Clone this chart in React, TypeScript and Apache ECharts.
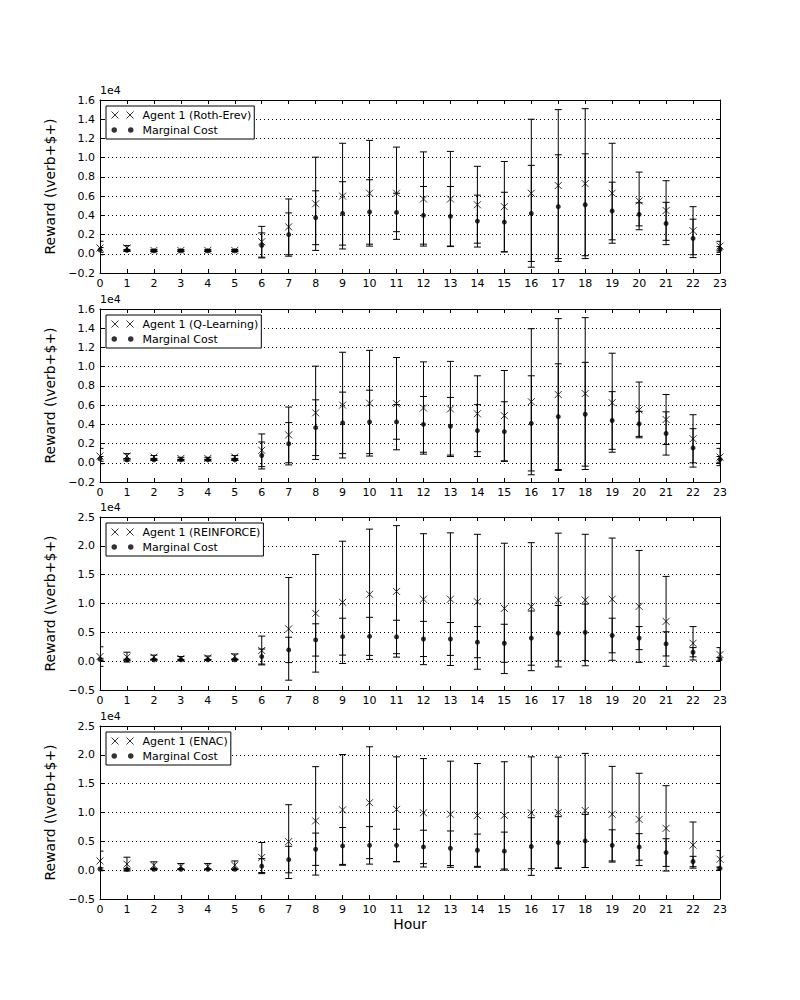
import React, { useEffect, useRef } from "react";
import * as echarts from "echarts";

const HOURS = [0, 1, 2, 3, 4, 5, 6, 7, 8, 9, 10, 11, 12, 13, 14, 15, 16, 17, 18, 19, 20, 21, 22, 23];

const AGENT_NAMES = [
  "Agent 1 (Roth-Erev)",
  "Agent 1 (Q-Learning)",
  "Agent 1 (REINFORCE)",
  "Agent 1 (ENAC)",
];

// Roth-Erev
const rothMean = [600, 600, 350, 350, 350, 350, 1250, 2800, 5200, 6000, 6300, 6300, 5700, 5700, 5100, 4900, 6300, 7100, 7300, 6300, 5500, 4500, 2400, 800];
const rothStd = [700, 250, 100, 100, 100, 100, 1600, 2900, 4850, 5500, 5500, 4800, 4900, 4950, 4000, 4700, 7700, 7900, 7800, 5200, 3000, 3100, 2500, 500];
const rothMcMean = [400, 350, 300, 300, 300, 300, 870, 2000, 3750, 4200, 4350, 4300, 4000, 3900, 3400, 3300, 4200, 4900, 5100, 4450, 4100, 3150, 1600, 450];
const rothMcStd = [250, 100, 60, 60, 60, 60, 1300, 2250, 2800, 3300, 3350, 2000, 3000, 3100, 2700, 3100, 5000, 5400, 5300, 3000, 1200, 2200, 2000, 300];

// Q-Learning
const qMean = [700, 700, 600, 450, 450, 600, 1300, 2900, 5200, 6000, 6200, 6150, 5700, 5600, 5100, 4900, 6350, 7100, 7200, 6250, 5500, 4500, 2500, 600];
const qStd = [800, 250, 150, 120, 120, 150, 1700, 2900, 4850, 5500, 5500, 4800, 4800, 4950, 3950, 4700, 7600, 7900, 7900, 5150, 2900, 2600, 2500, 900];
const qMcMean = [400, 300, 300, 300, 300, 300, 760, 1980, 3650, 4150, 4250, 4250, 4000, 3800, 3350, 3250, 4100, 4800, 5050, 4400, 4050, 3050, 1550, 350];
const qMcStd = [250, 100, 60, 60, 60, 60, 1400, 2200, 2900, 3200, 3300, 1800, 2900, 3000, 2700, 3100, 4950, 5500, 5400, 3000, 1300, 2250, 2000, 300];

// REINFORCE
const reMean = [800, 700, 700, 450, 550, 800, 1850, 5600, 8300, 10200, 11600, 12100, 10750, 10750, 10300, 9150, 9450, 10600, 10600, 10750, 9500, 6900, 3100, 1150];
const reStd = [1700, 850, 350, 350, 350, 450, 2500, 8900, 10200, 10600, 11300, 11400, 11350, 11500, 11700, 11300, 11100, 11600, 11400, 10600, 9700, 7800, 2900, 1200];
const reMcMean = [300, 250, 250, 250, 250, 250, 800, 1950, 3680, 4250, 4300, 4200, 3850, 3850, 3300, 3100, 4000, 4850, 5000, 4450, 4000, 3000, 1550, 350];
const reMcStd = [200, 100, 60, 60, 60, 60, 1300, 2200, 2800, 3200, 3300, 2900, 3050, 2850, 2700, 3300, 4700, 4800, 4900, 3000, 2000, 2100, 800, 300];

// ENAC
const enMean = [1600, 1050, 850, 650, 650, 850, 2200, 4950, 8550, 10450, 11700, 10550, 9950, 9700, 9500, 9500, 9950, 10000, 10350, 9700, 8800, 7250, 4350, 1900];
const enStd = [1700, 1200, 600, 500, 500, 750, 2600, 6400, 9400, 9600, 9700, 9100, 9400, 9200, 9000, 9300, 9700, 9600, 9900, 8300, 8000, 7400, 4000, 1500];
const enMcMean = [200, 150, 150, 150, 150, 150, 700, 1840, 3630, 4200, 4300, 4300, 4030, 3800, 3460, 3300, 4100, 4780, 5070, 4300, 4030, 3050, 1500, 300];
const enMcStd = [200, 100, 60, 60, 60, 60, 1300, 2300, 2800, 3200, 3250, 2800, 2900, 3000, 2800, 3300, 5000, 4500, 4600, 2700, 2300, 2400, 900, 250];

const PANELS = [
  { mean: rothMean, std: rothStd, mcMean: rothMcMean, mcStd: rothMcStd },
  { mean: qMean, std: qStd, mcMean: qMcMean, mcStd: qMcStd },
  { mean: reMean, std: reStd, mcMean: reMcMean, mcStd: reMcStd },
  { mean: enMean, std: enStd, mcMean: enMcMean, mcStd: enMcStd },
];

const Y_MIN = [-2000, -2000, -5000, -5000];
const Y_MAX = [16000, 16000, 25000, 25000];
const Y_STEP = [2000, 2000, 5000, 5000];

const GRID_TOPS = [100, 309, 517, 726];
const GRID_LEFT = 100;
const GRID_W = 620;
const GRID_H = 173;

const FONT = "DejaVu Sans";
const X_ICON = "path://M0,0L7,7M7,0L0,7M15,0L22,7M22,0L15,7";
const DOT_ICON =
  "path://M1,3.5a2.5,2.5 0 1,0 5,0a2.5,2.5 0 1,0 -5,0ZM16,3.5a2.5,2.5 0 1,0 5,0a2.5,2.5 0 1,0 -5,0Z";
const X_SYMBOL = "path://M0,0L7,7M7,0L0,7";

function errRender(params: any, api: any) {
  const x = api.value(0);
  const lo = api.value(1);
  const hi = api.value(2);
  const pLo = api.coord([x, lo]);
  const pHi = api.coord([x, hi]);
  const hw = 3.5;
  const style = { stroke: "#000", lineWidth: 1, fill: null };
  return {
    type: "group",
    children: [
      { type: "line", shape: { x1: pLo[0], y1: pLo[1], x2: pHi[0], y2: pHi[1] }, style },
      { type: "line", shape: { x1: pLo[0] - hw, y1: pLo[1], x2: pLo[0] + hw, y2: pLo[1] }, style },
      { type: "line", shape: { x1: pHi[0] - hw, y1: pHi[1], x2: pHi[0] + hw, y2: pHi[1] }, style },
    ],
  };
}

function fmtY(v: number) {
  return (v / 1e4).toFixed(1).replace("-", "\u2212");
}

function buildOption() {
  const grid: any[] = [];
  const xAxis: any[] = [];
  const yAxis: any[] = [];
  const series: any[] = [];
  const legend: any[] = [];
  const graphic: any[] = [];

  PANELS.forEach((p, i) => {
    grid.push({ left: GRID_LEFT, top: GRID_TOPS[i], width: GRID_W, height: GRID_H, containLabel: false });
    const tick = { show: true, inside: true, length: 4, lineStyle: { color: "#000", width: 1 } };
    const line = { show: true, onZero: false, lineStyle: { color: "#000", width: 1 } };
    xAxis.push({
      type: "value",
      gridIndex: i,
      min: 0,
      max: 23,
      interval: 1,
      position: "bottom",
      axisLine: line,
      axisTick: tick,
      axisLabel: { color: "#000", fontSize: 11, fontFamily: FONT, margin: 5 },
      splitLine: { show: false },
      name: i === 3 ? "Hour" : "",
      nameLocation: "middle",
      nameGap: 18,
      nameTextStyle: { color: "#000", fontSize: 14, fontFamily: FONT },
    });
    xAxis.push({
      type: "value",
      gridIndex: i,
      min: 0,
      max: 23,
      interval: 1,
      position: "top",
      axisLine: line,
      axisTick: tick,
      axisLabel: { show: false },
      splitLine: { show: false },
    });
    yAxis.push({
      type: "value",
      gridIndex: i,
      min: Y_MIN[i],
      max: Y_MAX[i],
      interval: Y_STEP[i],
      position: "left",
      axisLine: line,
      axisTick: tick,
      axisLabel: { color: "#000", fontSize: 11, fontFamily: FONT, margin: 5, formatter: fmtY },
      splitLine: { show: true, lineStyle: { color: "#000", width: 1, type: [1, 3] } },
      name: "Reward (\\verb+$+)",
      nameLocation: "middle",
      nameGap: 34,
      nameRotate: 90,
      nameTextStyle: { color: "#000", fontSize: 14, fontFamily: FONT },
    });
    yAxis.push({
      type: "value",
      gridIndex: i,
      min: Y_MIN[i],
      max: Y_MAX[i],
      interval: Y_STEP[i],
      position: "right",
      axisLine: line,
      axisTick: tick,
      axisLabel: { show: false },
      splitLine: { show: false },
    });

    const agentErr = HOURS.map((h, k) => [h, p.mean[k] - p.std[k], p.mean[k] + p.std[k]]);
    const mcErr = HOURS.map((h, k) => [h, p.mcMean[k] - p.mcStd[k], p.mcMean[k] + p.mcStd[k]]);
    const xa = i * 2;
    const ya = i * 2;
    series.push({
      type: "custom",
      name: AGENT_NAMES[i] + " err",
      xAxisIndex: xa,
      yAxisIndex: ya,
      renderItem: errRender,
      data: agentErr,
      encode: { x: 0, y: [1, 2] },
      clip: true,
      silent: true,
      z: 2,
    });
    series.push({
      type: "custom",
      name: "Marginal Cost err",
      xAxisIndex: xa,
      yAxisIndex: ya,
      renderItem: errRender,
      data: mcErr,
      encode: { x: 0, y: [1, 2] },
      clip: true,
      silent: true,
      z: 2,
    });
    series.push({
      type: "scatter",
      name: AGENT_NAMES[i],
      xAxisIndex: xa,
      yAxisIndex: ya,
      data: HOURS.map((h, k) => [h, p.mean[k]]),
      symbol: X_SYMBOL,
      symbolSize: 7,
      itemStyle: { color: "none", borderColor: "#000", borderWidth: 1 },
      z: 3,
    });
    series.push({
      type: "scatter",
      name: "Marginal Cost",
      xAxisIndex: xa,
      yAxisIndex: ya,
      data: HOURS.map((h, k) => [h, p.mcMean[k]]),
      symbol: "circle",
      symbolSize: 5,
      itemStyle: { color: "#000" },
      z: 4,
    });

    legend.push({
      orient: "vertical",
      left: 106,
      top: GRID_TOPS[i] + 6,
      data: [
        { name: AGENT_NAMES[i], icon: X_ICON, itemStyle: { color: "none", borderColor: "#000", borderWidth: 1 } },
        { name: "Marginal Cost", icon: DOT_ICON, itemStyle: { color: "#000", borderWidth: 0 } },
      ],
      itemWidth: 22,
      itemHeight: 7,
      itemGap: 3,
      padding: [3, 3, 3, 3],
      backgroundColor: "#fff",
      borderColor: "#000",
      borderWidth: 1,
      borderRadius: 0,
      textStyle: { color: "#000", fontSize: 11, fontFamily: FONT, lineHeight: 12, padding: [0, 0, 0, 4] },
      selectedMode: false,
      z: 10,
    });

    graphic.push({
      type: "text",
      left: GRID_LEFT,
      top: GRID_TOPS[i] - 15,
      style: { text: "1e4", fill: "#000", font: `11px ${FONT}` },
    });
  });

  return {
    animation: false,
    backgroundColor: "#fff",
    textStyle: { fontFamily: FONT },
    grid,
    xAxis,
    yAxis,
    series,
    legend,
    graphic,
  };
}

export default function App() {
  const ref = useRef<HTMLDivElement>(null);
  useEffect(() => {
    if (!ref.current) return;
    const chart = echarts.init(ref.current, undefined, { renderer: "svg" });
    chart.setOption(buildOption() as any);
    return () => chart.dispose();
  }, []);
  return (
    <div
      ref={ref}
      style={{ position: "absolute", left: 0, top: 0, width: 800, height: 1000, background: "#fff" }}
    />
  );
}
